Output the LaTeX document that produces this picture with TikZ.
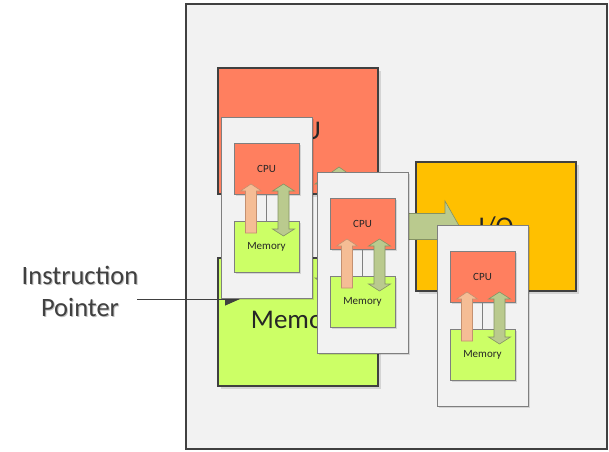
\documentclass[tikz,border=0pt]{standalone}
\usepackage{fontspec}
\setmainfont{Carlito}
\usetikzlibrary{arrows.meta}
\definecolor{bgc}{HTML}{F2F2F2}
\definecolor{cpuc}{HTML}{FF7F5F}
\definecolor{memc}{HTML}{CCFF66}
\definecolor{ioc}{HTML}{FFC000}
\definecolor{oarrc}{HTML}{F5BD95}
\definecolor{oarrd}{HTML}{C49070}
\definecolor{garrc}{HTML}{BACA8E}
\definecolor{garrd}{HTML}{849264}
\definecolor{edgec}{HTML}{404040}
\definecolor{thinc}{HTML}{7F7F7F}
\definecolor{txtc}{HTML}{262626}
\tikzset{
  bigbox/.style={draw=edgec, line width=1.1pt},
  smallbox/.style={draw=thinc, line width=0.8pt},
  panelbox/.style={draw=thinc, line width=0.9pt, fill=bgc},
  shadowbox/.style={fill=black, opacity=0.12},
  busline/.style={draw=thinc, line width=0.6pt},
  oarrow/.style={fill=oarrc, draw=oarrd, line width=0.6pt},
  garrow/.style={fill=garrc, draw=garrd, line width=0.6pt},
  smalltxt/.style={text=txtc, font=\fontsize{11}{12}\selectfont, inner sep=0pt},
  bigtxt/.style={text=txtc, font=\fontsize{27}{30}\selectfont, inner sep=0pt},
  iptxt/.style={align=center, font=\fontsize{26.5}{32}\selectfont, inner sep=0pt},
}
\newcommand\minipanel[3]{%
  \begin{scope}[shift={(#1,#2)}]
    \fill[shadowbox] (2,2) rectangle (93,183);
    \draw[panelbox] (0,0) rectangle (91,181);
    \fill[shadowbox] (14.5,27.5) rectangle (79.5,78.5);
    \fill[shadowbox] (14.5,105.5) rectangle (79.5,156.5);
    \draw[smallbox, fill=cpuc] (13,26) rectangle (78,77);
    \draw[smallbox, fill=memc] (13,104) rectangle (78,155);
    \draw[busline] (35.7,77) -- (35.7,104);
    \draw[busline] (45.5,77) -- (45.5,104);
    \node[smalltxt] (cpu#3) at (45.5,51.5) {CPU};
    \node[smalltxt] (mem#3) at (45.5,130) {Memory};
    \draw[oarrow] (24.5,116) -- (24.5,74) -- (19.5,74) -- (30,67) -- (40.5,74) -- (35.5,74) -- (35.5,116) -- cycle;
    \draw[garrow] (57,112) -- (57,74) -- (51.5,74) -- (62.5,67) -- (73.5,74) -- (68,74) -- (68,112) -- (73.5,112) -- (62.5,119) -- (51.5,112) -- cycle;
  \end{scope}}
\begin{document}
\begin{tikzpicture}[x=1pt,y=-1pt]
\useasboundingbox (0,0) rectangle (609,451);
% background frame
\draw[fill=bgc, draw=edgec, line width=1.1pt] (186,4) rectangle (607,449);
% big CPU / Memory / IO
\fill[shadowbox] (220.5,70.5) rectangle (380.5,196.5);
\fill[shadowbox] (220.5,260.5) rectangle (380.5,388.5);
\fill[shadowbox] (418.5,164.5) rectangle (578.5,293.5);
\draw[bigbox, fill=cpuc] (218,68) rectangle (378,194);
\draw[bigbox, fill=memc] (218,258) rectangle (378,386);
\draw[bigbox, fill=ioc] (416,162) rectangle (576,291);
\node[bigtxt] (bigcpu) at (298,131) {CPU};
\node[bigtxt] (bigmem) at (298,322) {Memory};
\node[bigtxt] (bigio) at (496,226.5) {I/O};
\draw[busline] (274,194) -- (274,258);
\draw[busline] (298,194) -- (298,258);
\draw[oarrow] (248,288) -- (248,186) -- (237,186) -- (260,169) -- (283,186) -- (272,186) -- (272,288) -- cycle;
\draw[garrow] (327,278) -- (327,184) -- (315,184) -- (339,167) -- (363,184) -- (351,184) -- (351,278) -- (363,278) -- (339,295) -- (315,278) -- cycle;
% arrow to I/O
\draw[garrow] (341,213.5) -- (445,213.5) -- (445,201) -- (459.5,226.5) -- (445,252) -- (445,239.5) -- (341,239.5) -- cycle;
% instruction pointer
\node[iptxt, text=black, opacity=0.25] at (81,292.5) {Instruction\\Pointer};
\node[iptxt, text=edgec] (ip) at (80,291) {Instruction\\Pointer};
\coordinate (ipstart) at (137,299);
\coordinate (iptip) at (240,299);
\draw[draw=edgec, line width=1pt, -{Triangle[length=15pt,width=13pt]}] (ipstart) -- (iptip);
% small panels
\minipanel{221}{117}{a}
\minipanel{317}{172}{b}
\minipanel{437}{225}{c}
\end{tikzpicture}
\end{document}
